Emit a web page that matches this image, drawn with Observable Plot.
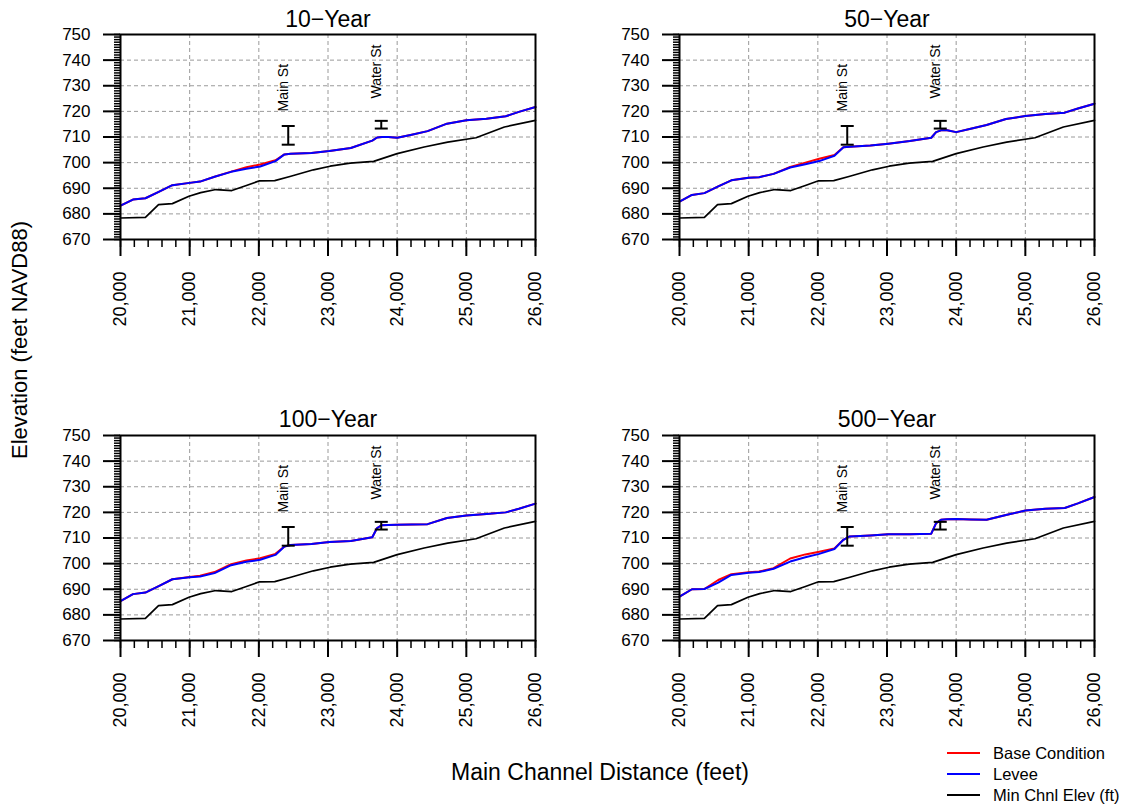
<!DOCTYPE html>
<html>
<head>
<meta charset="utf-8">
<script src="https://cdn.jsdelivr.net/npm/d3@7"></script>
<script src="https://cdn.jsdelivr.net/npm/@observablehq/plot@0.6"></script>
<style>
  body { margin: 0; background: white; font-family: "Liberation Sans", Arial, sans-serif; color: black; }
  #root { position: relative; width: 1129px; height: 808px; overflow: hidden; background: white; }
  .panel { position: absolute; }
  .ylab { position: absolute; left: 20px; top: 340px; transform: translate(-50%, -50%) rotate(-90deg); font-size: 22px; white-space: nowrap; }
  .xlab { position: absolute; left: 600px; top: 759px; transform: translateX(-50%); font-size: 23px; white-space: nowrap; }
  #legend { position: absolute; left: 930px; top: 740px; }
</style>
</head>
<body>
<div id="root">
  <div class="ylab">Elevation (feet NAVD88)</div>
  <div class="xlab">Main Channel Distance (feet)</div>
  <div id="legend"></div>
</div>
<script>
// ---- data ----
const xTicks = [20000, 21000, 22000, 23000, 24000, 25000, 26000];
const yTicks = [670, 680, 690, 700, 710, 720, 730, 740, 750];
const panelTitles = ["10\u2212Year", "50\u2212Year", "100\u2212Year", "500\u2212Year"];

const chnlDist = [20000, 20360, 20550, 20750, 20990, 21160, 21380, 21610, 21820, 22010, 22230, 22450, 22790, 23030, 23320, 23660, 24000, 24390, 24730, 25140, 25550, 26000];
const chnlElev = [678.4, 678.6, 683.6, 684.0, 686.9, 688.3, 689.5, 689.1, 691.1, 692.9, 693.0, 694.6, 697.2, 698.6, 699.8, 700.5, 703.5, 706.1, 708.0, 709.7, 713.9, 716.5];

const wsDist = [20000, 20180, 20360, 20560, 20750, 21000, 21150, 21360, 21600, 21820, 22020, 22240, 22370, 22460, 22760, 23020, 23330, 23640, 23710, 23780, 23870, 24000, 24210, 24440, 24720, 25000, 25290, 25570, 25760, 26000];

const levee10 = [683.2, 685.6, 686.1, 688.7, 691.2, 692.1, 692.6, 694.5, 696.4, 697.6, 698.5, 700.6, 703.2, 703.5, 703.8, 704.5, 705.7, 708.6, 709.8, 710.0, 710.0, 709.7, 710.9, 712.3, 715.2, 716.5, 717.1, 718.1, 719.8, 721.7];
const base10   = [683.2, 685.6, 686.1, 688.7, 691.2, 692.1, 692.6, 694.5, 696.5, 698.2, 699.3, 700.9, 703.2, 703.5, 703.8, 704.5, 705.7, 708.6, 709.8, 710.0, 710.0, 709.7, 710.9, 712.3, 715.2, 716.5, 717.1, 718.1, 719.8, 721.7];

const levee50 = [684.8, 687.4, 688.1, 690.7, 693.1, 694.1, 694.3, 695.6, 698.1, 699.4, 700.6, 702.7, 706.0, 706.2, 706.7, 707.4, 708.4, 709.7, 711.9, 712.6, 712.6, 711.9, 713.2, 714.7, 717.0, 718.2, 719.0, 719.5, 721.1, 723.0];
const base50   = [684.8, 687.4, 688.1, 690.7, 693.1, 694.1, 694.3, 695.6, 698.3, 700.0, 701.5, 703.0, 706.0, 706.2, 706.7, 707.4, 708.4, 709.7, 711.9, 712.6, 712.6, 711.9, 713.2, 714.7, 717.0, 718.2, 719.0, 719.5, 721.1, 723.0];

const levee100 = [685.4, 688.1, 688.7, 691.3, 693.9, 694.7, 695.0, 696.3, 699.4, 700.7, 701.5, 703.4, 706.7, 707.3, 707.7, 708.4, 708.8, 710.3, 713.9, 715.0, 715.1, 715.2, 715.3, 715.4, 717.8, 718.8, 719.4, 720.0, 721.4, 723.4];
const base100   = [685.4, 688.1, 688.7, 691.3, 693.9, 694.8, 695.3, 696.7, 699.8, 701.2, 702.1, 703.8, 706.7, 707.3, 707.7, 708.4, 708.8, 710.3, 713.9, 715.0, 715.1, 715.2, 715.3, 715.4, 717.8, 718.8, 719.4, 720.0, 721.4, 723.4];

const levee500 = [687.1, 690.0, 690.1, 692.6, 695.6, 696.4, 696.7, 698.0, 700.8, 702.5, 703.8, 705.7, 709.3, 710.6, 711.0, 711.5, 711.5, 711.7, 715.8, 717.1, 717.3, 717.4, 717.2, 717.1, 719.0, 720.7, 721.4, 721.7, 723.5, 726.0];
const base500   = [687.1, 690.0, 690.1, 693.6, 695.9, 696.6, 696.9, 698.2, 702.0, 703.6, 704.6, 705.9, 709.3, 710.6, 711.0, 711.5, 711.5, 711.7, 715.8, 717.1, 717.3, 717.4, 717.2, 717.1, 719.0, 720.7, 721.4, 721.7, 723.5, 726.0];

const bridgeName = ["Main St", "Water St"];
const bridgeDist = [22425, 23770];
const bridgeLow = [707.0, 713.3];
const bridgeHigh = [714.3, 716.3];
const bridgeLabelElev = [720, 725];

const seriesNames = ["Base Condition", "Levee", "Min Chnl Elev (ft)"];
const seriesColors = ["#ff0000", "#0000ff", "#000000"];

// ---- build ----
const chnl = chnlDist.map((d, i) => ({d, e: chnlElev[i]}));
const bridges = bridgeName.map((name, i) => ({name, d: bridgeDist[i], low: bridgeLow[i], high: bridgeHigh[i], lab: bridgeLabelElev[i]}));
const leveeSets = [levee10, levee50, levee100, levee500];
const baseSets = [base10, base50, base100, base500];
const toRows = arr => wsDist.map((d, i) => ({d, e: arr[i]}));

const capSymbol = {
  draw(ctx, size) {
    const r = Math.sqrt(size / Math.PI);
    ctx.moveTo(-r, 0);
    ctx.lineTo(r, 0);
  }
};

const xMinor = d3.range(20000, 26001, 200);
const yMinor = d3.range(670, 751, 1);

function panel(k) {
  return Plot.plot({
    width: 560, height: 335,
    marginLeft: 120, marginRight: 25, marginTop: 34, marginBottom: 96,
    x: {domain: [20000, 26000], label: null},
    y: {domain: [670, 750], label: null},
    style: {fontFamily: "'Liberation Sans', Arial, sans-serif", fontSize: "17px", color: "black", background: "transparent", overflow: "visible"},
    marks: [
      Plot.gridX({ticks: xTicks.slice(1, -1), stroke: "#9a9a9a", strokeOpacity: 1, strokeDasharray: "4,3", strokeWidth: 1}),
      Plot.gridY({ticks: yTicks.slice(1, -1), stroke: "#9a9a9a", strokeOpacity: 1, strokeDasharray: "4,3", strokeWidth: 1}),
      Plot.line(chnl, {x: "d", y: "e", stroke: seriesColors[2], strokeWidth: 1.7}),
      Plot.line(toRows(baseSets[k]), {x: "d", y: "e", stroke: seriesColors[0], strokeWidth: 2}),
      Plot.line(toRows(leveeSets[k]), {x: "d", y: "e", stroke: seriesColors[1], strokeWidth: 2}),
      Plot.ruleX(bridges, {x: "d", y1: "low", y2: "high", stroke: "black", strokeWidth: 2}),
      Plot.dot(bridges, {x: "d", y: "low", symbol: capSymbol, r: 6.5, stroke: "black", fill: "none", strokeWidth: 2}),
      Plot.dot(bridges, {x: "d", y: "high", symbol: capSymbol, r: 6.5, stroke: "black", fill: "none", strokeWidth: 2}),
      Plot.text(bridges, {x: "d", y: "lab", text: "name", rotate: -90, textAnchor: "start", dx: -5, fontSize: 14, fill: "black"}),
      Plot.axisX({ticks: xMinor, tickSize: 8, tickFormat: () => "", label: null, strokeWidth: 1.5}),
      Plot.axisX({ticks: xTicks, tickSize: 17, tickPadding: 15, tickRotate: -90, tickFormat: d3.format(","), label: null, strokeWidth: 2, fontSize: 18}),
      Plot.axisY({ticks: yMinor, tickSize: 6, tickFormat: () => "", label: null, strokeWidth: 1.5}),
      Plot.axisY({ticks: yTicks, tickSize: 17, tickPadding: 13, label: null, strokeWidth: 2}),
      Plot.frame({stroke: "black", strokeWidth: 2}),
      Plot.text([panelTitles[k]], {frameAnchor: "top", lineAnchor: "middle", dy: k < 2 ? -15 : -16, fontSize: 23, fill: "black"})
    ]
  });
}

const root = document.getElementById("root");
const positions = [[0, 0], [559, 0], [0, 401], [559, 401]];
positions.forEach(([left, top], k) => {
  const div = document.createElement("div");
  div.className = "panel";
  div.style.left = left + "px";
  div.style.top = top + "px";
  div.appendChild(panel(k));
  root.appendChild(div);
});

// legend
const leg = d3.select("#legend").append("svg").attr("width", 199).attr("height", 68);
seriesNames.forEach((name, i) => {
  const y = 13 + i * 21;
  leg.append("line").attr("x1", 17).attr("x2", 50).attr("y1", y).attr("y2", y)
    .attr("stroke", seriesColors[i]).attr("stroke-width", 2);
  leg.append("text").attr("x", 63).attr("y", y + 6).attr("font-size", 16.5)
    .attr("font-family", "'Liberation Sans', Arial, sans-serif").attr("fill", "black").text(name);
});
</script>
</body>
</html>
